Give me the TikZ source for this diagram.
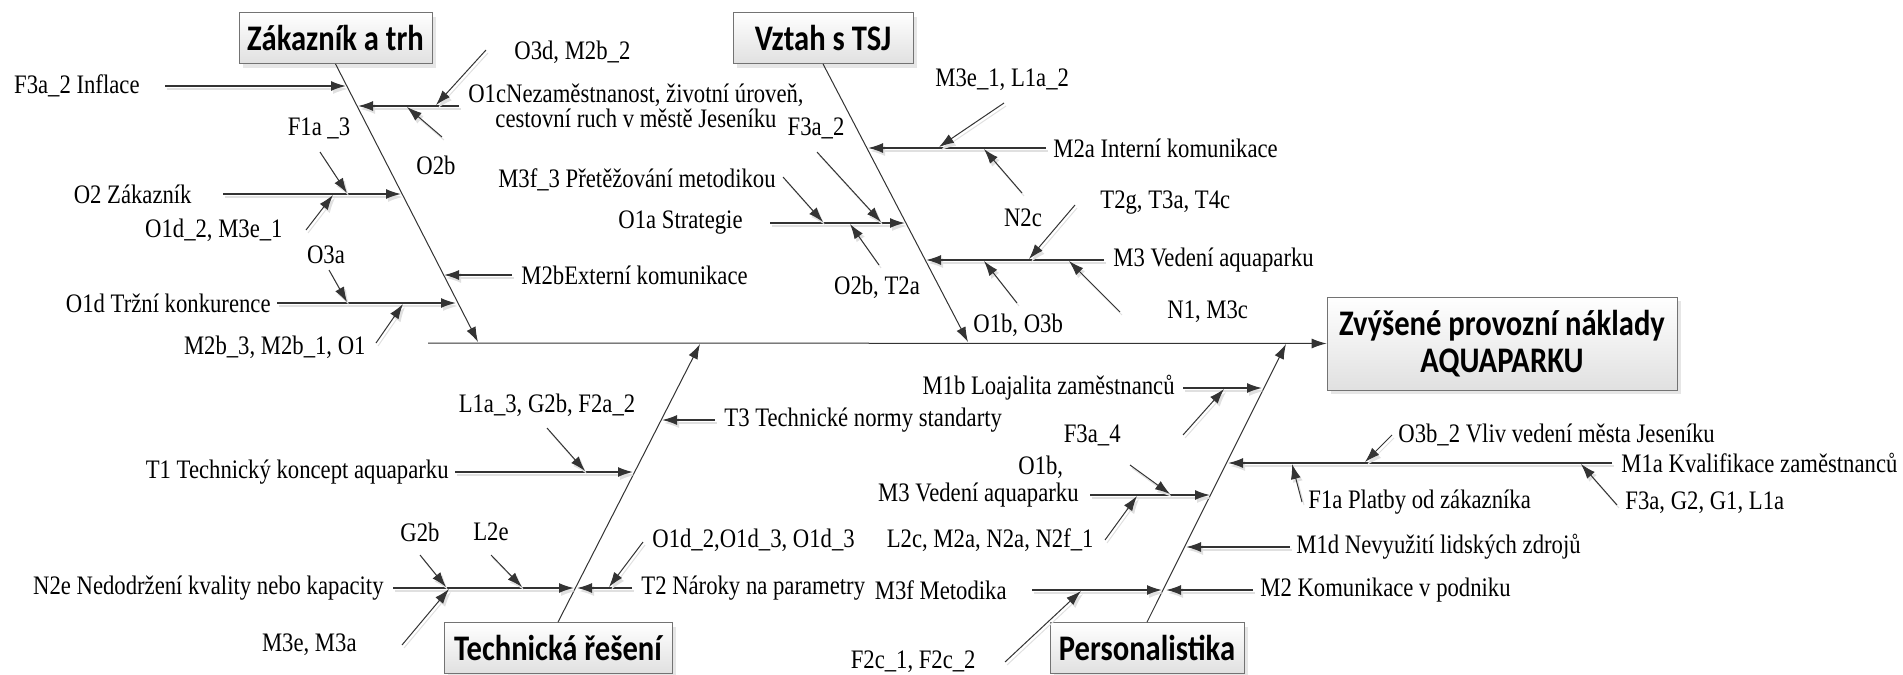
\documentclass[tikz,border=0pt]{standalone}
\usepackage{fontspec}
\setmainfont{Liberation Serif}[FakeStretch=0.85]
\newfontfamily\boxfont{Carlito}[FakeStretch=0.85]
\usetikzlibrary{arrows.meta,shadows}

\begin{document}
\begin{tikzpicture}[x=0.5pt,y=-0.5pt,
  every node/.style={inner sep=0pt,font=\fontsize{13.35}{12.5}\selectfont},
  cat/.style={draw=black!55,top color=white,bottom color=black!12,
    drop shadow={shadow xshift=2pt,shadow yshift=-2pt,opacity=0.2},
    minimum height=25.5pt,font=\boxfont\bfseries\fontsize{18}{18.5}\selectfont},
  tip/.style={-{Latex[length=7.5pt,width=5pt]}},
  shade/.style={every edge/.style={draw,preaction={draw=black!12,
    transform canvas={shift={(1pt,-1.5pt)}}}}},
  bone/.style={tip,color=black!80,line width=0.5pt},
  branch/.style={tip,shade,color=black!80,line width=0.8pt},
  sub/.style={tip,shade,color=black!80,line width=0.5pt}]

\useasboundingbox (0,0) rectangle (1903,675);

% effect and the four categories
\node[cat,minimum width=175pt,minimum height=46.5pt,align=center] (effect) at (1502,343.5) {Zvýšené provozní náklady\\AQUAPARKU};
\node[cat,minimum width=96.5pt] (zak) at (335.5,38) {Zákazník a trh};
\node[cat,minimum width=90pt] (vztah) at (823,38) {Vztah s TSJ};
\node[cat,minimum width=114pt] (tech) at (558,648) {Technická řešení};
\node[cat,minimum width=97pt] (pers) at (1147,648) {Personalistika};

\coordinate (spine) at (428,343);
\coordinate (zak-e) at (478,342);
\coordinate (vztah-e) at (968,342);
\coordinate (tech-e) at (700,344);
\coordinate (pers-e) at (1286,344);

% Zakaznik a trh
\node[anchor=east] (inflace) at (140,86) {F3a\_2 Inflace};
\coordinate (inflace-s) at (165,86); \coordinate (inflace-e) at (346,86);
\node[align=center] (nezam) at (636,106) {O1cNezaměstnanost, životní úroveň,\\cestovní ruch v městě Jeseníku};
\coordinate (nezam-s) at (459,106); \coordinate (nezam-e) at (358,106);
\node[anchor=west] (o3d) at (514,52) {O3d, M2b\_2};
\coordinate (o3d-s) at (486,50); \coordinate (o3d-e) at (436,105);
\node (o2b) at (436,165) {O2b};
\coordinate (o2b-s) at (442,137); \coordinate (o2b-e) at (407,107);
\node[anchor=east] (zakaznik) at (192,194) {O2 Zákazník};
\coordinate (zakaznik-s) at (223,194); \coordinate (zakaznik-e) at (401,194);
\node (f1a3) at (319,128) {F1a \_3};
\coordinate (f1a3-s) at (320,152); \coordinate (f1a3-e) at (347,193);
\node[anchor=east] (o1d2) at (283,230) {O1d\_2, M3e\_1};
\coordinate (o1d2-s) at (306,230); \coordinate (o1d2-e) at (333,195);
\node[anchor=west] (externi) at (521,275) {M2bExterní komunikace};
\coordinate (externi-s) at (512,275); \coordinate (externi-e) at (444,275);
\node[anchor=east] (trzni) at (271,303) {O1d Tržní konkurence};
\coordinate (trzni-s) at (277,303); \coordinate (trzni-e) at (456,303);
\node (o3a) at (326,255) {O3a};
\coordinate (o3a-s) at (329,270); \coordinate (o3a-e) at (347,302);
\node[anchor=east] (m2b3) at (366,347) {M2b\_3, M2b\_1, O1};
\coordinate (m2b3-s) at (376,343); \coordinate (m2b3-e) at (403,304);

% Vztah s TSJ
\node[anchor=west] (interni) at (1053,148) {M2a Interní komunikace};
\coordinate (interni-s) at (1046,148); \coordinate (interni-e) at (868,148);
\node[anchor=west] (m3e1) at (935,80) {M3e\_1, L1a\_2};
\coordinate (m3e1-s) at (1004,103); \coordinate (m3e1-e) at (939,147);
\node (n2c) at (1023,218) {N2c};
\coordinate (n2c-s) at (1022,193); \coordinate (n2c-e) at (984,149);
\node[anchor=east] (strategie) at (743,223) {O1a Strategie};
\coordinate (strategie-s) at (770,223); \coordinate (strategie-e) at (905,223);
\node[anchor=east] (pretez) at (776,180) {M3f\_3 Přetěžování metodikou};
\coordinate (pretez-s) at (783,177); \coordinate (pretez-e) at (823,222);
\node (f3a2) at (816,128) {F3a\_2};
\coordinate (f3a2-s) at (817,152); \coordinate (f3a2-e) at (881,222);
\node (o2bt2a) at (877,287) {O2b, T2a};
\coordinate (o2bt2a-s) at (879,265); \coordinate (o2bt2a-e) at (850,224);
\node[anchor=west] (vedeni) at (1113,260) {M3 Vedení aquaparku};
\coordinate (vedeni-s) at (1104,260); \coordinate (vedeni-e) at (926,260);
\node[anchor=west] (t2g) at (1100,203) {T2g, T3a, T4c};
\coordinate (t2g-s) at (1075,205); \coordinate (t2g-e) at (1029,259);
\node[anchor=west] (o1b) at (973,325) {O1b, O3b};
\coordinate (o1b-s) at (1017,303); \coordinate (o1b-e) at (984,261);
\node[anchor=west] (n1) at (1167,312) {N1, M3c};
\coordinate (n1-s) at (1120,312); \coordinate (n1-e) at (1069,261);

% Technicka reseni
\node[anchor=west] (normy) at (724,420) {T3 Technické normy standarty};
\coordinate (normy-s) at (715,420); \coordinate (normy-e) at (662,420);
\node[anchor=east] (koncept) at (449,472) {T1 Technický koncept aquaparku};
\coordinate (koncept-s) at (455,472); \coordinate (koncept-e) at (633,472);
\node (l1a3) at (547,405) {L1a\_3, G2b, F2a\_2};
\coordinate (l1a3-s) at (547,428); \coordinate (l1a3-e) at (585,471);
\node[anchor=east] (kvalita) at (384,588) {N2e Nedodržení kvality nebo kapacity};
\coordinate (kvalita-s) at (393,588); \coordinate (kvalita-e) at (574,588);
\node (g2b) at (420,532) {G2b};
\coordinate (g2b-s) at (420,555); \coordinate (g2b-e) at (446,587);
\node (l2e) at (491,532) {L2e};
\coordinate (l2e-s) at (491,555); \coordinate (l2e-e) at (522,587);
\node[anchor=east] (m3e) at (357,645) {M3e, M3a};
\coordinate (m3e-s) at (402,645); \coordinate (m3e-e) at (449,589);
\node[anchor=west] (naroky) at (641,588) {T2 Nároky na parametry};
\coordinate (naroky-s) at (632,588); \coordinate (naroky-e) at (577,588);
\node[anchor=west] (o1d3) at (652,540) {O1d\_2,O1d\_3, O1d\_3};
\coordinate (o1d3-s) at (643,542); \coordinate (o1d3-e) at (609,587);

% Personalistika
\node[anchor=east] (loaj) at (1175,388) {M1b Loajalita zaměstnanců};
\coordinate (loaj-s) at (1183,388); \coordinate (loaj-e) at (1262,388);
\node[anchor=east] (f3a4) at (1121,435) {F3a\_4};
\coordinate (f3a4-s) at (1183,435); \coordinate (f3a4-e) at (1224,389);
\node[anchor=east] (vedeni2) at (1079,495) {M3 Vedení aquaparku};
\coordinate (vedeni2-s) at (1090,495); \coordinate (vedeni2-e) at (1210,495);
\node[anchor=west] (o1bp) at (1018,467) {O1b,};
\coordinate (o1bp-s) at (1130,465); \coordinate (o1bp-e) at (1170,494);
\node[anchor=east] (l2c) at (1094,540) {L2c, M2a, N2a, N2f\_1};
\coordinate (l2c-s) at (1105,540); \coordinate (l2c-e) at (1137,496);
\node[anchor=west] (kvalif) at (1621,463) {M1a Kvalifikace zaměstnanců};
\coordinate (kvalif-s) at (1612,463); \coordinate (kvalif-e) at (1228,463);
\node[anchor=west] (o3b2) at (1398,435) {O3b\_2 Vliv vedení města Jeseníku};
\coordinate (o3b2-s) at (1392,435); \coordinate (o3b2-e) at (1365,462);
\node[anchor=west] (platby) at (1308,502) {F1a Platby od zákazníka};
\coordinate (platby-s) at (1302,502); \coordinate (platby-e) at (1292,464);
\node[anchor=west] (f3a) at (1625,503) {F3a, G2, G1, L1a};
\coordinate (f3a-s) at (1617,505); \coordinate (f3a-e) at (1581,464);
\node[anchor=west] (nevyuz) at (1296,547) {M1d Nevyužití lidských zdrojů};
\coordinate (nevyuz-s) at (1290,547); \coordinate (nevyuz-e) at (1186,547);
\node[anchor=east] (metodika) at (1007,590) {M3f Metodika};
\coordinate (metodika-s) at (1032,590); \coordinate (metodika-e) at (1162,590);
\node[anchor=east] (f2c) at (976,662) {F2c\_1, F2c\_2};
\coordinate (f2c-s) at (1005,662); \coordinate (f2c-e) at (1081,591);
\node[anchor=west] (komun) at (1260,590) {M2 Komunikace v podniku};
\coordinate (komun-s) at (1253,590); \coordinate (komun-e) at (1166,590);

% spine and bones
\path[bone] (spine) edge (effect.west)
  (zak.south) edge (zak-e)
  (vztah.south) edge (vztah-e)
  (tech.north) edge (tech-e)
  (pers.north) edge (pers-e);

% main causes
\path[branch] (inflace-s) edge (inflace-e)
  (nezam-s) edge (nezam-e)
  (zakaznik-s) edge (zakaznik-e)
  (externi-s) edge (externi-e)
  (trzni-s) edge (trzni-e)
  (interni-s) edge (interni-e)
  (strategie-s) edge (strategie-e)
  (vedeni-s) edge (vedeni-e)
  (normy-s) edge (normy-e)
  (koncept-s) edge (koncept-e)
  (kvalita-s) edge (kvalita-e)
  (naroky-s) edge (naroky-e)
  (loaj-s) edge (loaj-e)
  (vedeni2-s) edge (vedeni2-e)
  (kvalif-s) edge (kvalif-e)
  (nevyuz-s) edge (nevyuz-e)
  (metodika-s) edge (metodika-e)
  (komun-s) edge (komun-e);

% sub-causes
\path[sub] (o3d-s) edge (o3d-e)
  (o2b-s) edge (o2b-e)
  (f1a3-s) edge (f1a3-e)
  (o1d2-s) edge (o1d2-e)
  (o3a-s) edge (o3a-e)
  (m2b3-s) edge (m2b3-e)
  (m3e1-s) edge (m3e1-e)
  (n2c-s) edge (n2c-e)
  (pretez-s) edge (pretez-e)
  (f3a2-s) edge (f3a2-e)
  (o2bt2a-s) edge (o2bt2a-e)
  (t2g-s) edge (t2g-e)
  (o1b-s) edge (o1b-e)
  (n1-s) edge (n1-e)
  (l1a3-s) edge (l1a3-e)
  (g2b-s) edge (g2b-e)
  (l2e-s) edge (l2e-e)
  (m3e-s) edge (m3e-e)
  (o1d3-s) edge (o1d3-e)
  (f3a4-s) edge (f3a4-e)
  (o1bp-s) edge (o1bp-e)
  (l2c-s) edge (l2c-e)
  (o3b2-s) edge (o3b2-e)
  (platby-s) edge (platby-e)
  (f3a-s) edge (f3a-e)
  (f2c-s) edge (f2c-e);
\end{tikzpicture}
\end{document}
